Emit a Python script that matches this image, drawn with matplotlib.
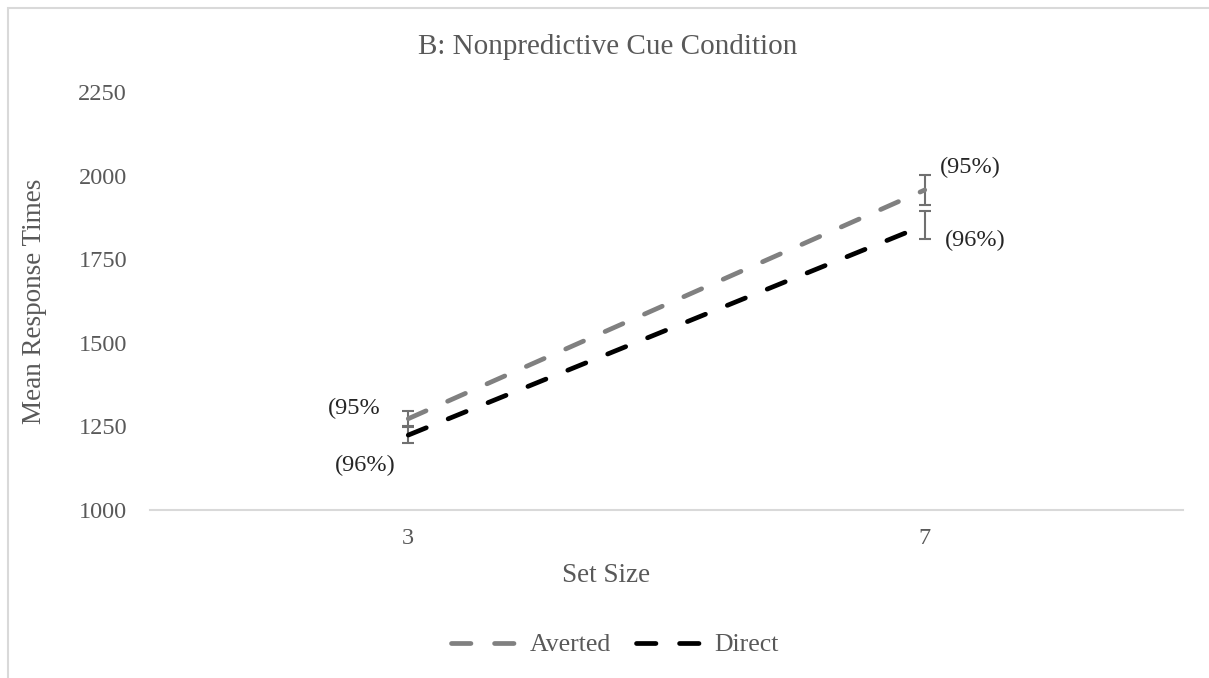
import matplotlib
matplotlib.use("Agg")
import matplotlib.pyplot as plt
from matplotlib.patches import Rectangle

plt.rcParams['font.family'] = ['Liberation Serif', 'DejaVu Serif']
plt.rcParams['lines.scale_dashes'] = False

set_sizes = ["3", "7"]
averted = [1273, 1957]
averted_err = [22, 45]
direct = [1224, 1852]
direct_err = [23, 42]
averted_labels = ["(95%", "(95%)"]
direct_labels = ["(96%)", "(96%)"]

text_grey = "#595959"
x = [0.5, 1.5]

fig = plt.figure(figsize=(12.09, 6.78), dpi=100)
ax = fig.add_axes([150/1209, 1 - 510/678, (1183-150)/1209, (510-92)/678])

# outer chart frame (only left/top visible in the reference)
fig.patches.append(Rectangle((8/1209, -0.1), 1.2, 1 - 8/678 + 0.1, transform=fig.transFigure,
                             fill=False, edgecolor="#d9d9d9", linewidth=1.5))

dash = (14, 17)
ax.errorbar(x, averted, yerr=averted_err, fmt="none", ecolor="#707070", elinewidth=1.5,
            capsize=4, capthick=1.5, zorder=2)
ax.errorbar(x, direct, yerr=direct_err, fmt="none", ecolor="#707070", elinewidth=1.5,
            capsize=4, capthick=1.5, zorder=2)
ax.plot(x, averted, color="#808080", lw=3.4, dashes=dash, dash_capstyle="round",
        label="Averted", zorder=3)
ax.plot(x, direct, color="black", lw=3.4, dashes=dash, dash_capstyle="round",
        label="Direct", zorder=3)

# data labels
lab = dict(textcoords="offset pixels", fontsize=17.5, color="#262626", va="center")
ax.annotate(averted_labels[0], (x[0], averted[0]), xytext=(-28, 10), ha="right", **lab)
ax.annotate(direct_labels[0], (x[0], direct[0]), xytext=(-13, -30), ha="right", **lab)
ax.annotate(averted_labels[1], (x[1], averted[1]), xytext=(15, 23), ha="left", **lab)
ax.annotate(direct_labels[1], (x[1], direct[1]), xytext=(20, -15), ha="left", **lab)

ax.set_xlim(0, 2)
ax.set_ylim(1000, 2250)
ax.set_yticks(range(1000, 2251, 250))
ax.set_xticks(x)
ax.set_xticklabels(set_sizes)
ax.tick_params(length=0, labelsize=17.5, labelcolor=text_grey)
ax.tick_params(axis="y", pad=16.5)
ax.tick_params(axis="x", pad=13)
for s in ["top", "right", "left"]:
    ax.spines[s].set_visible(False)
ax.spines["bottom"].set_color("#d9d9d9")
ax.spines["bottom"].set_linewidth(1.5)

ax.set_xlabel("Set Size", fontsize=19.5, color=text_grey, va="center")
ax.xaxis.set_label_coords((606 - 150) / 1033, (510 - 575) / 418)
ax.set_ylabel("Mean Response Times", fontsize=19.5, color=text_grey, va="center")
ax.yaxis.set_label_coords((35 - 150) / 1033, 0.5)
fig.text(608/1209, 1 - 47/678, "B: Nonpredictive Cue Condition", fontsize=21,
         color=text_grey, ha="center", va="center")

leg = fig.legend(loc="center", bbox_to_anchor=(615/1209, 1 - 645/678), ncol=2, frameon=False,
                 fontsize=18.5, handlelength=2.8, columnspacing=1.0, handletextpad=0.25)
for t in leg.get_texts():
    t.set_color(text_grey)

fig.savefig("out.png", dpi=100, facecolor="white")
